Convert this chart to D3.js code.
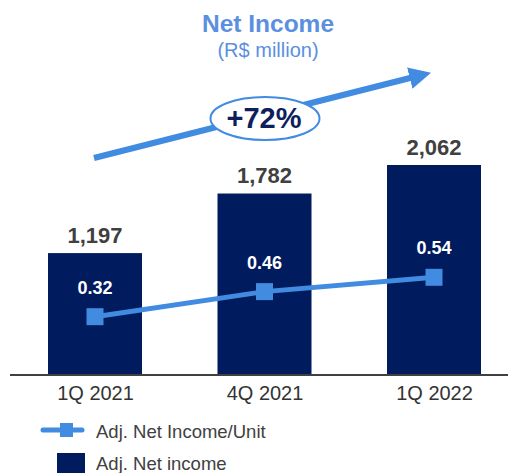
<!DOCTYPE html>
<html>
<head>
<meta charset="utf-8">
<script src="https://cdn.jsdelivr.net/npm/d3@7"></script>
<style>
  html, body { margin: 0; padding: 0; background: #fff; }
  svg { display: block; font-family: "Liberation Sans", Arial, sans-serif; }
</style>
</head>
<body>
<svg id="chart" width="508" height="473"></svg>
<script>
// Quarterly adjusted net income (R$ million) and net income per unit
const categories = ["1Q 2021", "4Q 2021", "1Q 2022"];
const netIncome = [1197, 1782, 2062];
const incomePerUnit = [0.32, 0.46, 0.54];
const netIncomeLabels = ["1,197", "1,782", "2,062"];
const perUnitLabels = ["0.32", "0.46", "0.54"];
const growthLabel = "+72%";
const legendLabels = ["Adj. Net Income/Unit", "Adj. Net income"];

const navy = "#001b5e";
const blue = "#418be0";
const titleBlue = "#5b8fe0";
const textGray = "#404040";

const svg = d3.select("#chart");
const baseline = 375;

// Bar centres along the category axis
const xCenter = d3.scalePoint().domain(categories).range([95, 434]);
const barWidth = 94;

const yBar = d3.scaleLinear().domain([0, 2062]).range([baseline, 165]);
const yLine = d3.scaleLinear().domain([0, 0.54]).range([baseline - 1, 277.3]);

// Title
svg.append("text")
  .attr("x", 268).attr("y", 32)
  .attr("text-anchor", "middle")
  .attr("font-size", 24.5).attr("font-weight", "bold")
  .attr("fill", titleBlue)
  .text("Net Income");
svg.append("text")
  .attr("x", 268).attr("y", 57)
  .attr("text-anchor", "middle")
  .attr("font-size", 20)
  .attr("fill", titleBlue)
  .text("(R$ million)");

// Growth arrow
const defs = svg.append("defs");
defs.append("marker")
  .attr("id", "arrowHead")
  .attr("viewBox", "0 0 10 10")
  .attr("refX", 2).attr("refY", 5)
  .attr("markerUnits", "userSpaceOnUse")
  .attr("markerWidth", 22).attr("markerHeight", 22)
  .attr("orient", "auto")
  .append("path")
  .attr("d", "M0,0 L10,5 L0,10 Z")
  .attr("fill", blue);

svg.append("line")
  .attr("x1", 94).attr("y1", 158)
  .attr("x2", 414).attr("y2", 77)
  .attr("stroke", blue)
  .attr("stroke-width", 6)
  .attr("marker-end", "url(#arrowHead)");

svg.append("ellipse")
  .attr("cx", 265).attr("cy", 118.5)
  .attr("rx", 54.5).attr("ry", 21.5)
  .attr("fill", "#fff")
  .attr("stroke", blue)
  .attr("stroke-width", 2);
svg.append("text")
  .attr("x", 264).attr("y", 128)
  .attr("text-anchor", "middle")
  .attr("font-size", 29).attr("font-weight", "bold")
  .attr("fill", "#0d1f5c")
  .text(growthLabel);

// Bars
svg.selectAll("rect.bar")
  .data(netIncome)
  .join("rect")
  .attr("class", "bar")
  .attr("x", (d, i) => xCenter(categories[i]) - barWidth / 2)
  .attr("y", d => yBar(d))
  .attr("width", barWidth)
  .attr("height", d => baseline - yBar(d))
  .attr("fill", navy);

// Bar value labels
svg.selectAll("text.barLabel")
  .data(netIncome)
  .join("text")
  .attr("class", "barLabel")
  .attr("x", (d, i) => xCenter(categories[i]))
  .attr("y", d => yBar(d) - 10.5)
  .attr("text-anchor", "middle")
  .attr("font-size", 22).attr("font-weight", "bold")
  .attr("fill", textGray)
  .text((d, i) => netIncomeLabels[i]);

// Baseline axis
const axis = d3.axisBottom(xCenter).tickSize(0).tickPadding(11);
const axisG = svg.append("g")
  .attr("transform", `translate(0,${baseline})`)
  .call(axis);
axisG.select(".domain").remove();
axisG.append("line")
  .attr("x1", 10).attr("x2", 508)
  .attr("stroke", "#404040").attr("stroke-width", 2);
axisG.selectAll(".tick text")
  .attr("font-size", 20)
  .attr("font-family", "Liberation Sans, Arial, sans-serif")
  .attr("fill", "#333");

// Per-unit line
const line = d3.line()
  .x((d, i) => xCenter(categories[i]))
  .y(d => yLine(d));
svg.append("path")
  .datum(incomePerUnit)
  .attr("d", line)
  .attr("fill", "none")
  .attr("stroke", blue)
  .attr("stroke-width", 5);

const mk = 17;
svg.selectAll("rect.marker")
  .data(incomePerUnit)
  .join("rect")
  .attr("class", "marker")
  .attr("x", (d, i) => xCenter(categories[i]) - mk / 2)
  .attr("y", d => yLine(d) - mk / 2)
  .attr("width", mk).attr("height", mk)
  .attr("fill", blue);

svg.selectAll("text.unitLabel")
  .data(incomePerUnit)
  .join("text")
  .attr("class", "unitLabel")
  .attr("x", (d, i) => xCenter(categories[i]))
  .attr("y", d => yLine(d) - 23)
  .attr("text-anchor", "middle")
  .attr("font-size", 18).attr("font-weight", "bold")
  .attr("fill", "#fff")
  .text((d, i) => perUnitLabels[i]);

// Legend
const lg = svg.append("g");
lg.append("line")
  .attr("x1", 43).attr("x2", 82)
  .attr("y1", 430).attr("y2", 430)
  .attr("stroke", blue).attr("stroke-width", 5)
  .attr("stroke-linecap", "round");
lg.append("rect")
  .attr("x", 60).attr("y", 423)
  .attr("width", 13).attr("height", 14)
  .attr("fill", blue);
lg.append("text")
  .attr("x", 96).attr("y", 438)
  .attr("font-size", 18.5)
  .attr("fill", textGray)
  .text(legendLabels[0]);
lg.append("rect")
  .attr("x", 57).attr("y", 453)
  .attr("width", 28).attr("height", 20)
  .attr("fill", navy);
lg.append("text")
  .attr("x", 96).attr("y", 470)
  .attr("font-size", 18.5)
  .attr("fill", textGray)
  .text(legendLabels[1]);
</script>
</body>
</html>
